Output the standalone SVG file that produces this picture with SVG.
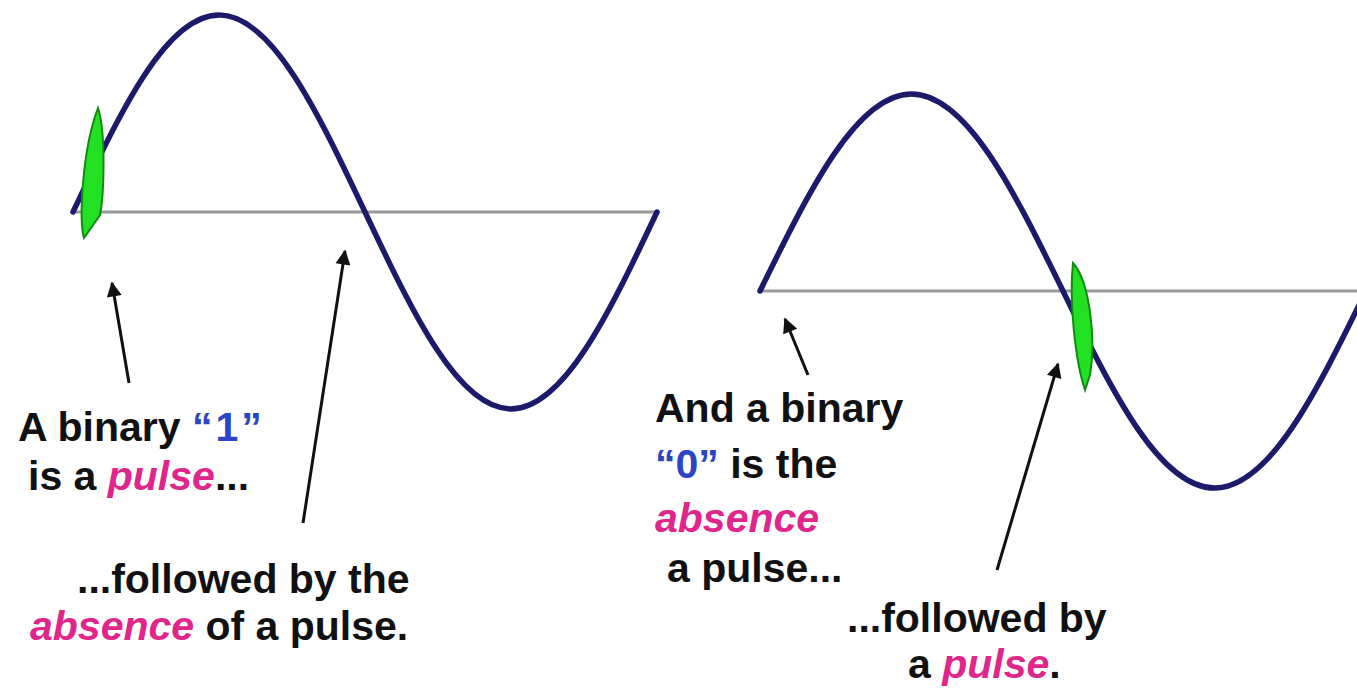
<svg xmlns="http://www.w3.org/2000/svg" width="1357" height="688" viewBox="0 0 1357 688">
<style>
.axis{stroke:#9a9a9a;stroke-width:3;fill:none}
.wave{stroke:#1c1a6a;stroke-width:5.5;fill:none;stroke-linecap:round}
.pulse{fill:#22e022;stroke:#138a13;stroke-width:2}
.arrow{stroke:#111;stroke-width:3;fill:none;marker-end:url(#ah)}
text{font-family:"Liberation Sans",Arial,sans-serif;font-weight:bold;font-size:41px;fill:#111}
.blue{fill:#2a45c8}
.pink{fill:#e0268a;font-style:italic}
</style>
<defs>
<marker id="ah" viewBox="0 0 10 10" refX="9" refY="5" markerWidth="5.5" markerHeight="5" orient="auto">
<path d="M0,0 L10,5 L0,10 Z" fill="#111"/>
</marker>
</defs>
<g id="left-wave">
<line class="axis" x1="75" y1="212" x2="657" y2="212"/>
<path class="wave" d="M73,212 C120.6,111.1 166.2,15 219,15 C271.8,15 317.4,111.1 365,212 C412.6,312.9 458.2,409 511,409 C563.8,409 609.4,312.9 657,212"/>
</g>
<g id="left-pulse">
<path class="pulse" d="M98,108 C106,132 104,195 100,215 L84,238 C79,220 82,150 98,108 Z"/>
</g>
<g id="right-wave">
<line class="axis" x1="760" y1="291" x2="1357" y2="291"/>
<path class="wave" d="M760,291 C809.4,190.1 856.7,94 911.5,94 C966.3,94 1013.6,190.1 1063,291 C1112.4,391.9 1159.7,488 1214.5,488 C1269.3,488 1316.6,391.9 1366,291"/>
</g>
<g id="right-pulse">
<path class="pulse" d="M1073,263 C1090,282 1096,340 1090,375 L1085,390 C1075,360 1069,300 1073,263 Z"/>
</g>
<g id="connectors">
<line class="arrow" x1="129" y1="383" x2="112" y2="283"/>
<line class="arrow" x1="303" y1="523" x2="345" y2="251"/>
<line class="arrow" x1="808" y1="375" x2="785" y2="319"/>
<line class="arrow" x1="997" y1="570" x2="1058" y2="364"/>
</g>
<g id="label-one">
<text x="18" y="441">A binary <tspan class="blue" letter-spacing="3">“1”</tspan></text>
<text x="28" y="490">is a <tspan class="pink">pulse</tspan>...</text>
</g>
<g id="label-followed-absence">
<text x="77" y="593">...followed by the</text>
<text x="30" y="640"><tspan class="pink">absence</tspan> of a pulse.</text>
</g>
<g id="label-zero">
<text x="655" y="422">And a binary</text>
<text x="655" y="478"><tspan class="blue">“0”</tspan> is the</text>
<text x="655" y="532" class="pink">absence</text>
<text x="667" y="582">a pulse...</text>
</g>
<g id="label-followed-pulse">
<text x="847" y="632">...followed by</text>
<text x="908" y="678">a <tspan class="pink">pulse</tspan>.</text>
</g>
</svg>
